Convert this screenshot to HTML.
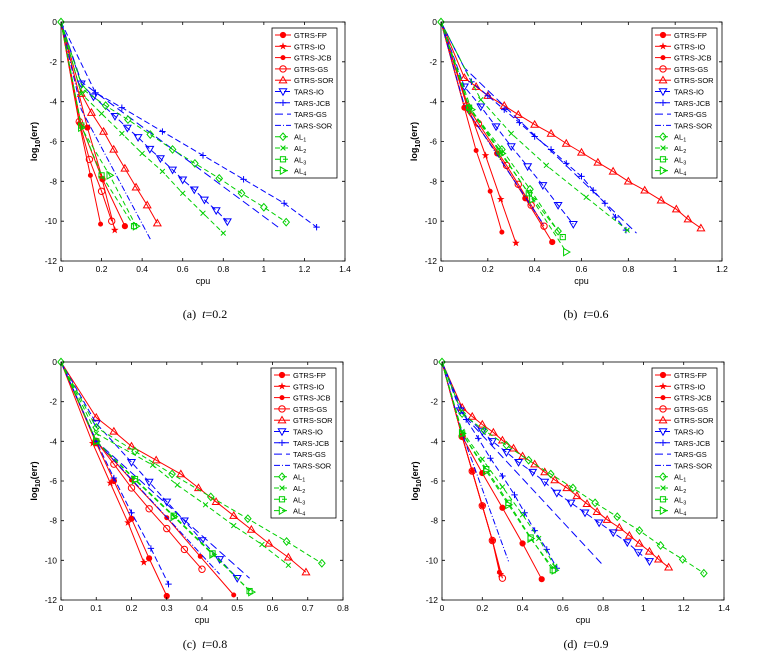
<!DOCTYPE html>
<html><head><meta charset="utf-8"><style>
body{margin:0;background:#fff}
svg{display:block}
</style></head><body>
<svg id="fig" width="778" height="670" viewBox="0 0 778 670"></svg>
<script>
const seriesNames=["GTRS-FP","GTRS-IO","GTRS-JCB","GTRS-GS","GTRS-SOR","TARS-IO","TARS-JCB","TARS-GS","TARS-SOR","AL1","AL2","AL3","AL4"];
const yTicks=[0,-2,-4,-6,-8,-10,-12];
const xTicksA=[0,0.2,0.4,0.6,0.8,1,1.2,1.4];
const xTicksB=[0,0.2,0.4,0.6,0.8,1,1.2];
const xTicksC=[0,0.1,0.2,0.3,0.4,0.5,0.6,0.7,0.8];
const xTicksD=[0,0.2,0.4,0.6,0.8,1,1.2,1.4];
// panel (a) t=0.2
const aX=[[0,0.13,0.205,0.315],[0,0.1,0.2,0.265],[0,0.09,0.145,0.195],[0,0.09,0.14,0.2,0.25],[0,0.1,0.15,0.21,0.26,0.315,0.37,0.425,0.475],
[0,0.1,0.16,0.266,0.327,0.38,0.438,0.49,0.55,0.6,0.657,0.707,0.765,0.82],[0,0.17,0.3,0.5,0.7,0.9,1.1,1.26],[0,0.1,1.07],[0,0.1,0.44],
[0,0.11,0.22,0.33,0.44,0.55,0.66,0.78,0.89,1.0,1.11],[0,0.1,0.2,0.3,0.4,0.5,0.6,0.7,0.8],[0,0.1,0.2,0.36],[0,0.1,0.24,0.37]];
const aY=[[0,-5.3,-7.9,-10.25],[0,-5.2,-7.8,-10.45],[0,-5.1,-7.7,-10.15],[0,-5.0,-6.9,-8.5,-10.0],[0,-3.6,-4.55,-5.5,-6.4,-7.35,-8.3,-9.2,-10.1],
[0,-3.1,-3.75,-4.73,-5.32,-5.79,-6.38,-6.85,-7.42,-7.92,-8.42,-8.93,-9.46,-10.02],[0,-3.55,-4.3,-5.5,-6.7,-7.9,-9.1,-10.3],[0,-3.0,-10.3],[0,-4.4,-10.9],
[0,-3.4,-4.2,-4.9,-5.65,-6.4,-7.1,-7.85,-8.6,-9.3,-10.05],[0,-3.6,-4.6,-5.6,-6.6,-7.5,-8.6,-9.6,-10.6],[0,-5.2,-7.7,-10.25],[0,-5.3,-7.7,-10.25]];
// panel (b) t=0.6
const bX=[[0,0.1,0.24,0.36,0.475],[0,0.12,0.19,0.255,0.32],[0,0.1,0.15,0.21,0.26],[0,0.11,0.16,0.28,0.33,0.385,0.44],
[0,0.1,0.15,0.2,0.27,0.33,0.4,0.47,0.535,0.6,0.67,0.735,0.8,0.87,0.94,1.005,1.055,1.11],
[0,0.1,0.17,0.235,0.3,0.37,0.435,0.5,0.565],[0,0.13,0.2,0.27,0.335,0.4,0.47,0.535,0.6,0.65,0.7,0.745,0.79],[0,0.1,0.835],[0,0.1,0.44],
[0,0.12,0.26,0.38,0.5],[0,0.17,0.3,0.45,0.62,0.795],[0,0.12,0.25,0.375,0.52],[0,0.13,0.26,0.39,0.535]];
const bY=[[0,-4.3,-6.6,-8.85,-11.05],[0,-4.4,-6.7,-8.9,-11.1],[0,-4.3,-6.45,-8.5,-10.55],[0,-4.2,-5.1,-7.2,-8.15,-9.2,-10.25],
[0,-2.8,-3.25,-3.7,-4.2,-4.65,-5.15,-5.6,-6.1,-6.55,-7.05,-7.5,-8.0,-8.45,-8.95,-9.4,-9.9,-10.35],
[0,-3.25,-4.25,-5.25,-6.25,-7.25,-8.2,-9.2,-10.15],[0,-3.0,-3.7,-4.4,-5.05,-5.75,-6.4,-7.1,-7.75,-8.45,-9.1,-9.8,-10.45],[0,-2.3,-10.6],[0,-4.2,-10.2],
[0,-4.3,-6.4,-8.4,-10.5],[0,-3.9,-5.6,-7.2,-8.8,-10.45],[0,-4.3,-6.5,-8.6,-10.8],[0,-4.4,-6.6,-8.9,-11.55]];
// panel (c) t=0.8
const cX=[[0,0.1,0.15,0.2,0.25,0.3],[0,0.09,0.14,0.19,0.235],[0,0.1,0.2,0.3,0.395,0.49],[0,0.1,0.15,0.2,0.25,0.3,0.35,0.4],
[0,0.1,0.15,0.2,0.27,0.34,0.39,0.44,0.49,0.54,0.59,0.645,0.695],
[0,0.1,0.2,0.25,0.3,0.35,0.4,0.45,0.5],[0,0.1,0.15,0.2,0.255,0.305],[0,0.1,0.535],[0,0.1,0.45],
[0,0.1,0.21,0.315,0.425,0.53,0.64,0.74],[0,0.1,0.26,0.33,0.41,0.49,0.57,0.645],[0,0.1,0.21,0.32,0.43,0.535],[0,0.1,0.21,0.32,0.43,0.54]];
const cY=[[0,-4.1,-6.0,-7.9,-9.9,-11.8],[0,-4.1,-6.1,-8.1,-10.1],[0,-4.0,-5.95,-7.85,-9.8,-11.75],[0,-4.0,-5.15,-6.35,-7.4,-8.4,-9.45,-10.45],
[0,-2.8,-3.5,-4.25,-4.95,-5.65,-6.35,-7.05,-7.75,-8.45,-9.15,-9.85,-10.6],
[0,-3.1,-5.05,-6.05,-7.05,-8.0,-9.0,-9.95,-10.9],[0,-4.0,-5.85,-7.6,-9.4,-11.2],[0,-4.0,-10.9],[0,-4.0,-10.7],
[0,-3.3,-4.5,-5.65,-6.8,-7.9,-9.05,-10.15],[0,-3.6,-5.2,-6.2,-7.2,-8.25,-9.2,-10.25],[0,-4.0,-5.9,-7.75,-9.65,-11.55],[0,-4.0,-5.95,-7.8,-9.7,-11.6]];
// panel (d) t=0.9
const dX=[[0,0.1,0.2,0.3,0.4,0.495],[0,0.1,0.15,0.2,0.25,0.29],[0,0.1,0.15,0.2,0.25,0.285],[0,0.1,0.15,0.2,0.25,0.3],
[0,0.1,0.15,0.2,0.255,0.3,0.355,0.4,0.46,0.51,0.56,0.62,0.67,0.72,0.77,0.82,0.88,0.93,0.98,1.03,1.075,1.125],
[0,0.09,0.2,0.25,0.32,0.38,0.45,0.51,0.57,0.64,0.71,0.78,0.85,0.92,0.975,1.03],[0,0.12,0.18,0.24,0.3,0.36,0.41,0.46,0.52,0.57],[0,0.1,0.8],[0,0.1,0.33],
[0,0.1,0.21,0.32,0.43,0.54,0.65,0.76,0.87,0.98,1.085,1.195,1.3],[0,0.1,0.2,0.3,0.4,0.48,0.56],[0,0.1,0.22,0.33,0.44,0.55],[0,0.1,0.22,0.33,0.44,0.56]];
const dY=[[0,-3.75,-5.6,-7.35,-9.15,-10.95],[0,-3.75,-5.5,-7.25,-9.0,-10.7],[0,-3.75,-5.5,-7.25,-9.0,-10.6],[0,-3.75,-5.5,-7.25,-9.0,-10.9],
[0,-2.3,-2.75,-3.15,-3.55,-3.95,-4.35,-4.75,-5.15,-5.55,-5.95,-6.35,-6.75,-7.15,-7.55,-7.95,-8.35,-8.75,-9.15,-9.55,-9.95,-10.35],
[0,-2.45,-3.5,-4.0,-4.55,-5.05,-5.55,-6.05,-6.6,-7.1,-7.6,-8.1,-8.6,-9.1,-9.6,-10.05],[0,-2.9,-3.85,-4.85,-5.75,-6.7,-7.6,-8.5,-9.45,-10.4],[0,-2.6,-10.25],[0,-3.6,-10.05],
[0,-2.6,-3.45,-4.2,-4.95,-5.65,-6.35,-7.1,-7.8,-8.5,-9.25,-9.95,-10.65],[0,-3.5,-4.9,-6.3,-7.7,-8.9,-10.3],[0,-3.6,-5.4,-7.1,-8.85,-10.5],[0,-3.6,-5.5,-7.2,-8.9,-10.5]];

const NS="http://www.w3.org/2000/svg";
const svg=document.getElementById('fig');
function mk(tag,attrs,parent){const e=document.createElementNS(NS,tag);for(const k in attrs)e.setAttribute(k,attrs[k]);if(tag==='text'&&!attrs['font-family'])e.setAttribute('font-family','Liberation Sans, sans-serif');(parent||svg).appendChild(e);return e;}
const RED="#ff0000",BLUE="#0000ff",GREEN="#00d000";
const styles=[
{c:RED,d:"",m:"hex"},{c:RED,d:"",m:"star"},{c:RED,d:"",m:"dot"},{c:RED,d:"",m:"circle"},{c:RED,d:"",m:"tri"},
{c:BLUE,d:"6,3",m:"tridown"},{c:BLUE,d:"6,3",m:"plus"},{c:BLUE,d:"8,4",m:""},{c:BLUE,d:"6,2,1,2",m:""},
{c:GREEN,d:"5,3",m:"diamond"},{c:GREEN,d:"5,3",m:"x"},{c:GREEN,d:"5,3",m:"square"},{c:GREEN,d:"5,3",m:"triright"}];
function marker(g,type,x,y,c){
  const r=3.2;let e=null;
  if(type==="circle")e=mk('circle',{cx:x,cy:y,r:r,fill:'none',stroke:c,'stroke-width':1},g);
  else if(type==="dot"||type==="hex")e=mk('circle',{cx:x,cy:y,r:type==="dot"?2:2.6,fill:c,stroke:c,'stroke-width':1},g);
  else if(type==="star"){let p=[];for(let i=0;i<10;i++){const a=-Math.PI/2+i*Math.PI/5,rr=i%2?1.6:4;p.push((x+rr*Math.cos(a)).toFixed(1)+","+(y+rr*Math.sin(a)).toFixed(1));}e=mk('polygon',{points:p.join(' '),fill:c},g);}
  else if(type==="tri")e=mk('polygon',{points:`${x},${y-r-0.5} ${x-r-0.5},${y+r-0.5} ${x+r+0.5},${y+r-0.5}`,fill:'none',stroke:c,'stroke-width':1},g);
  else if(type==="tridown")e=mk('polygon',{points:`${x},${y+r+0.5} ${x-r-0.5},${y-r+0.5} ${x+r+0.5},${y-r+0.5}`,fill:'none',stroke:c,'stroke-width':1},g);
  else if(type==="triright")e=mk('polygon',{points:`${x+r+0.5},${y} ${x-r+0.5},${y-r-0.5} ${x-r+0.5},${y+r+0.5}`,fill:'none',stroke:c,'stroke-width':1},g);
  else if(type==="diamond")e=mk('polygon',{points:`${x},${y-r-0.5} ${x+r},${y} ${x},${y+r+0.5} ${x-r},${y}`,fill:'none',stroke:c,'stroke-width':1},g);
  else if(type==="square")e=mk('rect',{x:x-2.6,y:y-2.6,width:5.2,height:5.2,fill:'none',stroke:c,'stroke-width':1},g);
  else if(type==="plus")e=mk('path',{d:`M${x-r},${y}H${x+r}M${x},${y-r}V${y+r}`,stroke:c,'stroke-width':1},g);
  else if(type==="x")e=mk('path',{d:`M${x-2.4},${y-2.4}L${x+2.4},${y+2.4}M${x-2.4},${y+2.4}L${x+2.4},${y-2.4}`,stroke:c,'stroke-width':1},g);
  if(e){}
}
function panel(id,P,xt,X,Y,cap,legX,legY){
  const g=mk('g',{});
  
  
  const xmax=xt[xt.length-1];
  const sx=v=>P.x0+(v/xmax)*(P.x1-P.x0);
  const sy=v=>P.y0+(-v/12)*(P.y1-P.y0);
  X.forEach((xs,i)=>{
    const st=styles[i];
    const sg=mk('g',{},g);
    
    
    const pts=xs.map((x,j)=>sx(x).toFixed(1)+","+sy(Y[i][j]).toFixed(1)).join(' ');
    const pl=mk('polyline',{points:pts,fill:'none',stroke:st.c,'stroke-width':1,'stroke-dasharray':st.d},sg);
    
    
    if(st.m)xs.forEach((x,j)=>{if(j>0)marker(sg,st.m,sx(x),sy(Y[i][j]),st.c);});
  });
  marker(g,"diamond",sx(0),sy(0),GREEN);
  const box=mk('rect',{x:P.x0,y:P.y0,width:P.x1-P.x0,height:P.y1-P.y0,fill:'none',stroke:'#000','stroke-width':0.8},g);
  
  
  yTicks.forEach(v=>{const y=sy(v);
    mk('path',{d:`M${P.x0},${y}h3M${P.x1},${y}h-3`,stroke:'#000','stroke-width':0.8},g);
    const t=mk('text',{x:P.x0-4,y:y+3,'font-size':8.5,'text-anchor':'end'},g);t.textContent=v;
    });
  xt.forEach(v=>{const x=sx(v);
    mk('path',{d:`M${x},${P.y1}v-3M${x},${P.y0}v3`,stroke:'#000','stroke-width':0.8},g);
    const t=mk('text',{x:x,y:P.y1+11,'font-size':8.5,'text-anchor':'middle'},g);t.textContent=v;
    });
  const xl=mk('text',{x:(P.x0+P.x1)/2,y:P.y1+23,'font-size':9,'text-anchor':'middle'},g);xl.textContent='cpu';
  
  const yl=mk('text',{transform:`translate(${P.x0-24},${(P.y0+P.y1)/2}) rotate(-90)`,'font-size':9,'font-weight':'bold','text-anchor':'middle'},g);
  yl.innerHTML='log<tspan font-size="7" dy="3">10</tspan><tspan dy="-3">(err)</tspan>';
  
  const lg=mk('g',{},g);
  
  
  mk('rect',{x:legX,y:legY,width:65,height:150,fill:'#fff',stroke:'#000','stroke-width':0.8},lg);
  seriesNames.forEach((n,i)=>{
    const y=legY+7+i*11.3,st=styles[i];
    const e=mk('g',{},lg);
    
    
    mk('line',{x1:legX+3,x2:legX+19,y1:y,y2:y,stroke:st.c,'stroke-width':1,'stroke-dasharray':st.d},e);
    if(st.m)marker(e,st.m,legX+11,y,st.c);
    const t=mk('text',{x:legX+22,y:y+3,'font-size':7.5},e);
    if(n.startsWith('AL'))t.innerHTML='AL<tspan font-size="5.5" dy="2">'+n.slice(2)+'</tspan>';else t.textContent=n;
  });
  const c=mk('text',{x:cap.x,y:cap.y,'font-size':12,'text-anchor':'middle','font-family':'Liberation Serif, serif'},g);
  c.innerHTML=cap.l+'&#160;&#160;<tspan font-style="italic">t</tspan>='+cap.v;
  
}
panel('a',{x0:61,x1:345,y0:22,y1:261},xTicksA,aX,aY,{x:205,y:318,l:'(a)',v:'0.2'},272,28);
panel('b',{x0:441,x1:722,y0:22,y1:261},xTicksB,bX,bY,{x:586,y:318,l:'(b)',v:'0.6'},652,28);
panel('c',{x0:61,x1:343,y0:362,y1:600},xTicksC,cX,cY,{x:205,y:648,l:'(c)',v:'0.8'},271,368);
panel('d',{x0:442,x1:724,y0:362,y1:600},xTicksD,dX,dY,{x:586,y:648,l:'(d)',v:'0.9'},652,368);
</script>
</body></html>
